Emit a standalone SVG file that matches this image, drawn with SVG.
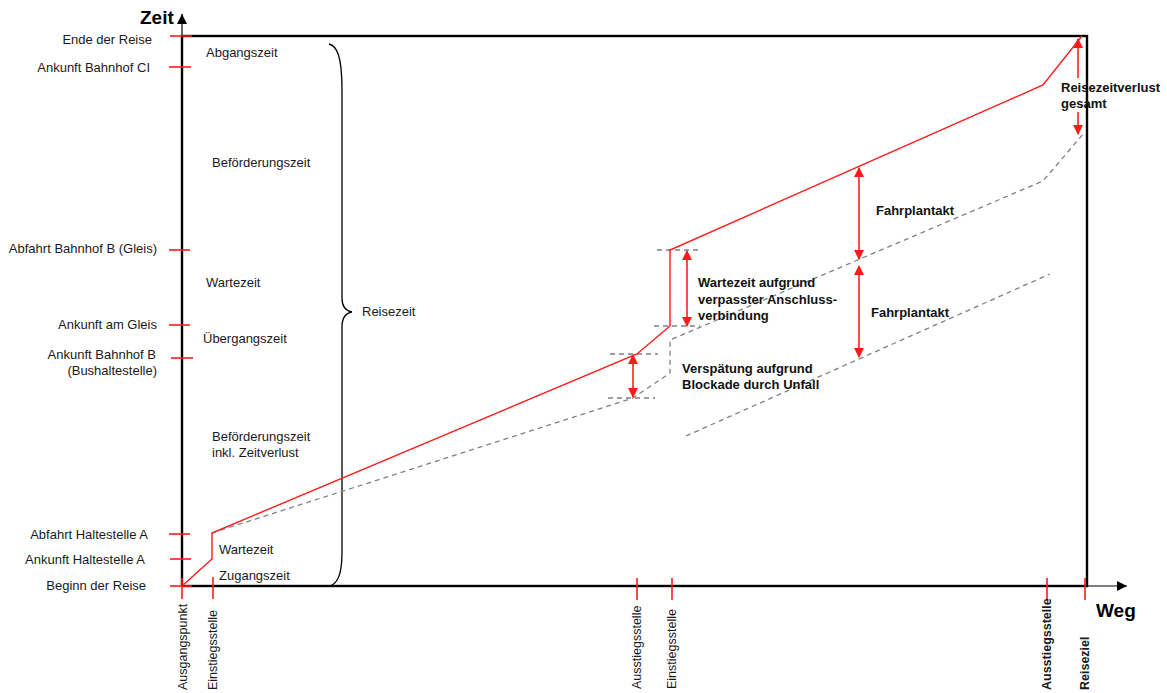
<svg xmlns="http://www.w3.org/2000/svg" width="1167" height="693" viewBox="0 0 1167 693">
  <style>
    text { font-family: "Liberation Sans", Arial, sans-serif; fill: #1a1a1a; }
    .lbl { font-size: 13px; }
    .ylbl { font-size: 13px; text-anchor: end; }
    .bold { font-weight: bold; font-size: 13px; fill: #111; }
    .axis-title { font-weight: bold; font-size: 19px; fill: #000; }
    .xlbl { font-size: 12.5px; text-anchor: start; }
    .xlbl-b { font-size: 12.5px; text-anchor: start; font-weight: bold; }
    .frame { fill: none; stroke: #000; stroke-width: 2.4; }
    .thin { fill: none; stroke: #000; stroke-width: 1.2; }
    .tick { stroke: #ff1a1a; stroke-width: 1.6; }
    .route { fill: none; stroke: #ff1a1a; stroke-width: 1.4; stroke-linejoin: miter; }
    .plan { fill: none; stroke: #808080; stroke-width: 1.3; stroke-dasharray: 5 4; }
    .dim { stroke: #ff2020; stroke-width: 1.6; marker-start: url(#ah); marker-end: url(#ah); }
    .dim-e { stroke: #ff2020; stroke-width: 1.6; marker-end: url(#ah); }
    .brace { fill: none; stroke: #000; stroke-width: 1.3; }
  </style>
  <defs>
    <marker id="ah" viewBox="0 0 10 10" refX="9" refY="5" markerWidth="11" markerHeight="10" markerUnits="userSpaceOnUse" orient="auto-start-reverse">
      <path d="M0,0 L10,5 L0,10 z" fill="#ff1a1a"/>
    </marker>
    <marker id="ax" viewBox="0 0 10 10" refX="10" refY="5" markerWidth="10" markerHeight="10" markerUnits="userSpaceOnUse" orient="auto">
      <path d="M0,0 L10,5 L0,10 z" fill="#000"/>
    </marker>
  </defs>

  <!-- axes and frame -->
  <g id="axes">
    <rect class="frame" x="182" y="36" width="905" height="550"/>
    <line class="thin" x1="182" y1="36" x2="182" y2="14" marker-end="url(#ax)"/>
    <line class="thin" x1="1087" y1="586" x2="1127" y2="586" marker-end="url(#ax)"/>
    <text class="axis-title" x="140" y="24">Zeit</text>
    <text class="axis-title" x="1096" y="617">Weg</text>
  </g>

  <!-- time ticks and labels -->
  <g id="time-marks">
    <line class="tick" x1="170" y1="36" x2="192" y2="36"/>
    <line class="tick" x1="169" y1="67" x2="191" y2="67"/>
    <line class="tick" x1="169" y1="250" x2="190" y2="250"/>
    <line class="tick" x1="169" y1="325" x2="190" y2="325"/>
    <line class="tick" x1="171" y1="358" x2="193" y2="358"/>
    <line class="tick" x1="169" y1="534" x2="190" y2="534"/>
    <line class="tick" x1="170" y1="559" x2="191" y2="559"/>
    <line class="tick" x1="170" y1="586" x2="192" y2="586"/>
    <text class="ylbl" x="152" y="44">Ende der Reise</text>
    <text class="ylbl" x="150" y="72">Ankunft Bahnhof CI</text>
    <text class="ylbl" x="157" y="253">Abfahrt Bahnhof B (Gleis)</text>
    <text class="ylbl" x="157" y="329">Ankunft am Gleis</text>
    <text class="ylbl" x="156" y="359">Ankunft Bahnhof B</text>
    <text class="ylbl" x="157" y="375">(Bushaltestelle)</text>
    <text class="ylbl" x="148" y="539">Abfahrt Haltestelle A</text>
    <text class="ylbl" x="145" y="564">Ankunft Haltestelle A</text>
    <text class="ylbl" x="146" y="590">Beginn der Reise</text>
  </g>

  <!-- distance ticks and labels -->
  <g id="way-marks">
    <line class="tick" x1="182" y1="578" x2="182" y2="599"/>
    <line class="tick" x1="213" y1="577" x2="213" y2="599"/>
    <line class="tick" x1="637" y1="578" x2="637" y2="600"/>
    <line class="tick" x1="672" y1="578" x2="672" y2="600"/>
    <line class="tick" x1="1047" y1="578" x2="1047" y2="600"/>
    <line class="tick" x1="1085" y1="578" x2="1085" y2="600"/>
    <text class="xlbl" transform="translate(187,690) rotate(-90)">Ausgangspunkt</text>
    <text class="xlbl" transform="translate(217,690) rotate(-90)">Einstiegsstelle</text>
    <text class="xlbl" transform="translate(641,689) rotate(-90)">Ausstiegsstelle</text>
    <text class="xlbl" transform="translate(676,689) rotate(-90)">Einstiegsstelle</text>
    <text class="xlbl-b" transform="translate(1051,690) rotate(-90)">Ausstiegsstelle</text>
    <text class="xlbl-b" transform="translate(1089,690) rotate(-90)">Reiseziel</text>
  </g>

  <!-- phase labels inside the frame -->
  <g id="phases">
    <text class="lbl" x="206" y="57">Abgangszeit</text>
    <text class="lbl" x="212" y="167">Beförderungszeit</text>
    <text class="lbl" x="206" y="287">Wartezeit</text>
    <text class="lbl" x="203" y="343">Übergangszeit</text>
    <text class="lbl" x="212" y="441">Beförderungszeit</text>
    <text class="lbl" x="212" y="457">inkl. Zeitverlust</text>
    <text class="lbl" x="219" y="554">Wartezeit</text>
    <text class="lbl" x="219" y="580">Zugangszeit</text>
  </g>

  <!-- total journey brace -->
  <g id="reisezeit">
    <path class="brace" d="M329,44 C337,46 342,56 342,90 L342,298 C342,307 346,311 352,312 C346,313 342,318 342,327 L342,552 C342,574 338,583 330,586"/>
    <text class="lbl" x="362" y="316">Reisezeit</text>
  </g>

  <!-- connectors: planned and actual trajectories -->
  <g id="connectors">
    <polyline class="plan" points="212,533 633,398 670,373 670,340 1043,181 1084,133"/>
    <line class="plan" x1="686" y1="436" x2="1050" y2="274"/>
    <line class="plan" x1="657" y1="250" x2="700" y2="250"/>
    <line class="plan" x1="654" y1="326" x2="700" y2="326"/>
    <line class="plan" x1="610" y1="354" x2="658" y2="354"/>
    <line class="plan" x1="608" y1="398" x2="655" y2="398"/>
    <polyline class="route" points="182,586 212,559 212,533 637,354 670,326 670,250 1043,85 1082,36"/>
    <line class="dim" x1="687" y1="251" x2="687" y2="326"/>
    <line class="dim" x1="633" y1="355" x2="633" y2="397"/>
    <line class="dim" x1="859" y1="168" x2="859" y2="259"/>
    <line class="dim" x1="859" y1="266" x2="859" y2="357"/>
    <line class="dim-e" x1="1078" y1="78" x2="1078" y2="39"/>
    <line class="dim-e" x1="1078" y1="112" x2="1078" y2="134"/>
  </g>

  <!-- annotations -->
  <g id="annotations">
    <text class="bold" x="698" y="287">Wartezeit aufgrund</text>
    <text class="bold" x="698" y="304">verpasster Anschluss-</text>
    <text class="bold" x="698" y="320">verbindung</text>
    <text class="bold" x="682" y="373">Verspätung aufgrund</text>
    <text class="bold" x="682" y="389">Blockade durch Unfall</text>
    <text class="bold" x="876" y="215">Fahrplantakt</text>
    <text class="bold" x="871" y="317">Fahrplantakt</text>
    <text class="bold" x="1061" y="92">Reisezeitverlust</text>
    <text class="bold" x="1061" y="108">gesamt</text>
  </g>
</svg>
